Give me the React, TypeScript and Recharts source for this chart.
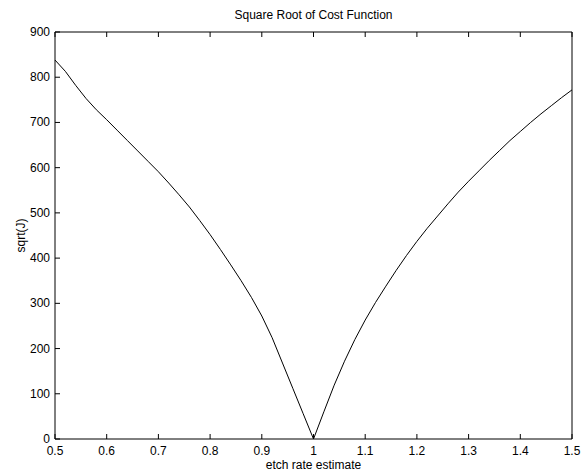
import React from 'react';
import { LineChart, Line, XAxis, YAxis, Label } from 'recharts';

const etchRates = [
  0.5, 0.52, 0.54, 0.56, 0.58, 0.6, 0.62, 0.64, 0.66, 0.68, 0.7, 0.72, 0.74, 0.76, 0.78,
  0.8, 0.82, 0.84, 0.86, 0.88, 0.9, 0.92, 0.94, 0.96, 0.98, 1.0,
  1.02, 1.04, 1.06, 1.08, 1.1, 1.12, 1.14, 1.16, 1.18, 1.2, 1.22, 1.24, 1.26, 1.28, 1.3,
  1.32, 1.34, 1.36, 1.38, 1.4, 1.42, 1.44, 1.46, 1.48, 1.5,
];

const sqrtJ = [
  838, 813, 782, 753, 728, 706, 683, 660, 637, 614, 591, 566, 540, 513, 483,
  452, 419, 385, 350, 313, 272, 224, 168, 112, 56, 0,
  60, 119, 172, 220, 263, 302, 338, 373, 406, 437, 466, 493, 520, 546, 570,
  593, 616, 638, 660, 680, 700, 719, 737, 755, 772,
];

const xTicks = [0.5, 0.6, 0.7, 0.8, 0.9, 1.0, 1.1, 1.2, 1.3, 1.4, 1.5];
const yTicks = [0, 100, 200, 300, 400, 500, 600, 700, 800, 900];

const data = etchRates.map((x, i) => ({ x, y: sqrtJ[i] }));

const FONT = 'Liberation Sans, Arial, Helvetica, sans-serif';
const TICK_LEN = 5;

const fmtX = (v: number) => String(Number(v.toFixed(1)));

// ticks point inward, MATLAB style
const BottomTick = (p: any) => (
  <g>
    <line x1={p.x} y1={p.y} x2={p.x} y2={p.y - TICK_LEN} stroke="#000" />
    <text x={p.x} y={p.y + 16} textAnchor="middle" fontSize={12} fontFamily={FONT} fill="#000">
      {fmtX(p.payload.value)}
    </text>
  </g>
);

const TopTick = (p: any) => (
  <line x1={p.x} y1={p.y} x2={p.x} y2={p.y + TICK_LEN} stroke="#000" />
);

const LeftTick = (p: any) => (
  <g>
    <line x1={p.x} y1={p.y} x2={p.x + TICK_LEN} y2={p.y} stroke="#000" />
    <text x={p.x - 5} y={p.y + 4} textAnchor="end" fontSize={12} fontFamily={FONT} fill="#000">
      {p.payload.value}
    </text>
  </g>
);

const RightTick = (p: any) => (
  <line x1={p.x} y1={p.y} x2={p.x - TICK_LEN} y2={p.y} stroke="#000" />
);

export default function App() {
  return (
    <div style={{ position: 'absolute', left: 0, top: 0, background: '#fff' }}>
      <LineChart
        width={583}
        height={472}
        data={data}
        margin={{ top: 0, right: 0, bottom: 0, left: 0 }}
      >
        <XAxis
          dataKey="x"
          type="number"
          domain={[0.5, 1.5]}
          ticks={xTicks}
          height={33}
          tickSize={0}
          tickMargin={0}
          tickLine={false}
          axisLine={{ stroke: '#000' }}
          tick={BottomTick}
          interval={0}
        >
          <Label
            content={({ viewBox }: any) => (
              <text
                x={viewBox.x + viewBox.width / 2}
                y={viewBox.y + 30}
                textAnchor="middle"
                fontSize={12}
                fontFamily={FONT}
                fill="#000"
              >
                etch rate estimate
              </text>
            )}
          />
        </XAxis>
        <XAxis
          xAxisId="top"
          orientation="top"
          dataKey="x"
          type="number"
          domain={[0.5, 1.5]}
          ticks={xTicks}
          height={32}
          tickSize={0}
          tickMargin={0}
          tickLine={false}
          axisLine={{ stroke: '#000' }}
          tick={TopTick}
          interval={0}
        >
          <Label
            content={({ viewBox }: any) => (
              <text
                x={viewBox.x + viewBox.width / 2}
                y={viewBox.y + 19}
                textAnchor="middle"
                fontSize={12}
                fontFamily={FONT}
                fill="#000"
              >
                Square Root of Cost Function
              </text>
            )}
          />
        </XAxis>
        <YAxis
          type="number"
          domain={[0, 900]}
          ticks={yTicks}
          width={55}
          tickSize={0}
          tickMargin={0}
          tickLine={false}
          axisLine={{ stroke: '#000' }}
          tick={LeftTick}
          interval={0}
        >
          <Label
            content={({ viewBox }: any) => {
              const cx = viewBox.x + 21;
              const cy = viewBox.y + viewBox.height / 2;
              return (
                <text
                  x={cx}
                  y={cy}
                  transform={`rotate(-90 ${cx} ${cy})`}
                  textAnchor="middle"
                  dominantBaseline="central"
                  fontSize={12}
                  fontFamily={FONT}
                  fill="#000"
                >
                  sqrt(J)
                </text>
              );
            }}
          />
        </YAxis>
        <YAxis
          yAxisId="right"
          orientation="right"
          type="number"
          domain={[0, 900]}
          ticks={yTicks}
          width={11}
          tickSize={0}
          tickMargin={0}
          tickLine={false}
          axisLine={{ stroke: '#000' }}
          tick={RightTick}
          interval={0}
        />
        <Line
          dataKey="y"
          type="linear"
          stroke="#000"
          strokeWidth={1}
          dot={false}
          isAnimationActive={false}
        />
      </LineChart>
    </div>
  );
}
